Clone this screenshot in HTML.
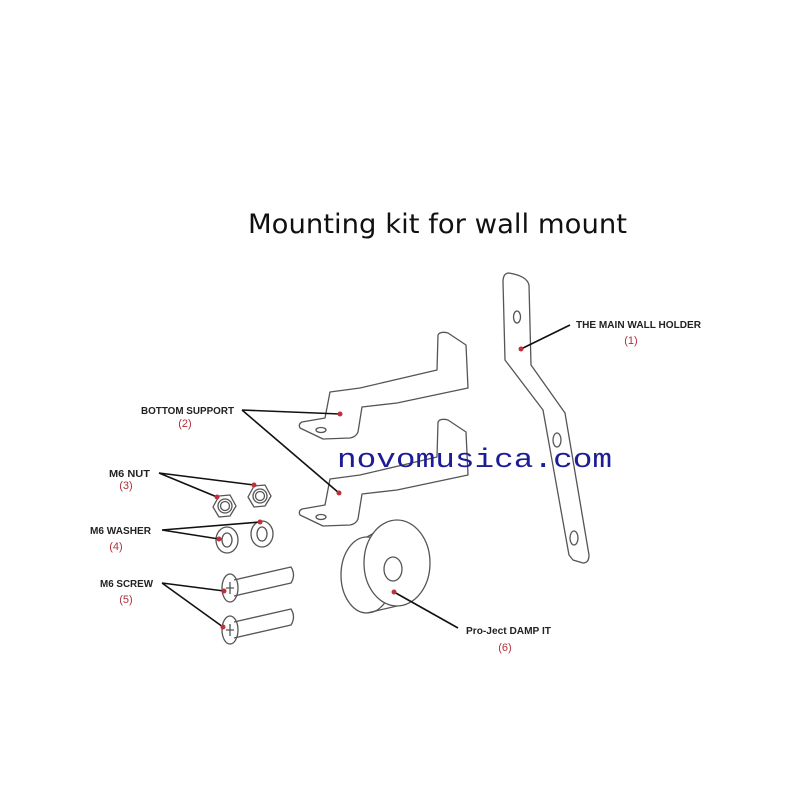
<!DOCTYPE html>
<html><head><meta charset="utf-8"><style>
html,body{margin:0;padding:0;background:#fff}
svg{display:block}
</style></head><body>
<svg width="800" height="800" viewBox="0 0 800 800" xmlns="http://www.w3.org/2000/svg">
<rect width="800" height="800" fill="#fff"/>
<text x="248" y="233" font-family="DejaVu Sans, Liberation Sans, sans-serif" font-size="27" fill="#111" textLength="379" lengthAdjust="spacingAndGlyphs">Mounting kit for wall mount</text>

<g fill="none" stroke="#555" stroke-width="1.3" stroke-linejoin="round">
<path d="M509,273 Q527,276 529,285 L531,365 L565,413 L589,555 Q589,563 583,563 L573,560 L569,555 L543,410 L505,360 L503,282 Q503,273 509,273 Z"/>
<ellipse cx="517" cy="317" rx="3.5" ry="6"/>
<ellipse cx="557" cy="440" rx="4" ry="7"/>
<ellipse cx="574" cy="538" rx="4" ry="7"/>
<g id="br">
<path d="M438,335 Q440,331 448,333 L466,345 L468,388 L397,403 L362,407 L358,432 Q356,437 350,438 L323,439 L300,428 Q298,424 302,422 L325,418 L330,392 L360,388 L437,370 Z"/>
<ellipse cx="321" cy="430" rx="5" ry="2.5"/>
</g>
<use href="#br" transform="translate(0,87)"/>
<polygon points="236,506 230,516 219,517 213,507 219,496 230,495"/>
<circle cx="225" cy="506" r="7"/><circle cx="225" cy="506" r="4.5"/>
<polygon points="271,496 265,506 254,507 248,497 254,486 265,485"/>
<circle cx="260" cy="496" r="7"/><circle cx="260" cy="496" r="4.5"/>
<ellipse cx="227" cy="540" rx="11" ry="13"/><ellipse cx="227" cy="540" rx="5" ry="7"/>
<ellipse cx="262" cy="534" rx="11" ry="13"/><ellipse cx="262" cy="534" rx="5" ry="7"/>
<path d="M234,580 L291,567 Q296,575 291,583 L234,596"/>
<ellipse cx="230" cy="588" rx="8" ry="14"/>
<path d="M226,588 h8 M230,582 v12"/>
<path d="M234,622 L291,609 Q296,617 291,625 L234,638"/>
<ellipse cx="230" cy="630" rx="8" ry="14"/>
<path d="M226,630 h8 M230,624 v12"/>
<!-- damp -->
<ellipse cx="367" cy="575" rx="26" ry="38"/>
<path d="M367,537 L397,520 M367,613 L397,606"/>
<ellipse cx="397" cy="563" rx="33" ry="43" fill="#fff"/>
<ellipse cx="393" cy="569" rx="9" ry="12"/>
</g>

<g stroke="#111" stroke-width="1.6" fill="none">
<path d="M521,349 L570,325"/>
<path d="M242,410 L340,414 M242,410 L339,493"/>
<path d="M159,473 L217,497 M159,473 L254,485"/>
<path d="M162,530 L219,539 M162,530 L260,522"/>
<path d="M162,583 L224,591 M162,583 L223,627"/>
<path d="M394,592 L458,628"/>
</g>
<g fill="#c0303a">
<circle cx="521" cy="349" r="2.5"/><circle cx="340" cy="414" r="2.5"/><circle cx="339" cy="493" r="2.5"/>
<circle cx="217" cy="497" r="2.5"/><circle cx="254" cy="485" r="2.5"/>
<circle cx="219" cy="539" r="2.5"/><circle cx="260" cy="522" r="2.5"/>
<circle cx="224" cy="591" r="2.5"/><circle cx="223" cy="627" r="2.5"/>
<circle cx="394" cy="592" r="2.5"/>
</g>

<g font-family="Liberation Sans, sans-serif" font-size="10" font-weight="bold" fill="#222">
<text x="576" y="328" textLength="125" lengthAdjust="spacingAndGlyphs">THE MAIN WALL HOLDER</text>
<text x="141" y="414" textLength="93" lengthAdjust="spacingAndGlyphs">BOTTOM SUPPORT</text>
<text x="109" y="477" textLength="41" lengthAdjust="spacingAndGlyphs">M6 NUT</text>
<text x="90" y="534" textLength="61" lengthAdjust="spacingAndGlyphs">M6 WASHER</text>
<text x="100" y="587" textLength="53" lengthAdjust="spacingAndGlyphs">M6 SCREW</text>
<text x="466" y="634" textLength="85" lengthAdjust="spacingAndGlyphs">Pro-Ject DAMP IT</text>
</g>
<g font-family="Liberation Sans, sans-serif" font-size="11" fill="#b0303a" text-anchor="middle">
<text x="631" y="344">(1)</text>
<text x="185" y="427">(2)</text>
<text x="126" y="489">(3)</text>
<text x="116" y="550">(4)</text>
<text x="126" y="603">(5)</text>
<text x="505" y="651">(6)</text>
</g>

<text x="337" y="467" font-family="Liberation Mono, monospace" font-size="27" fill="#1c1c96" textLength="275" lengthAdjust="spacingAndGlyphs">novomusica.com</text>
</svg>
</body></html>
